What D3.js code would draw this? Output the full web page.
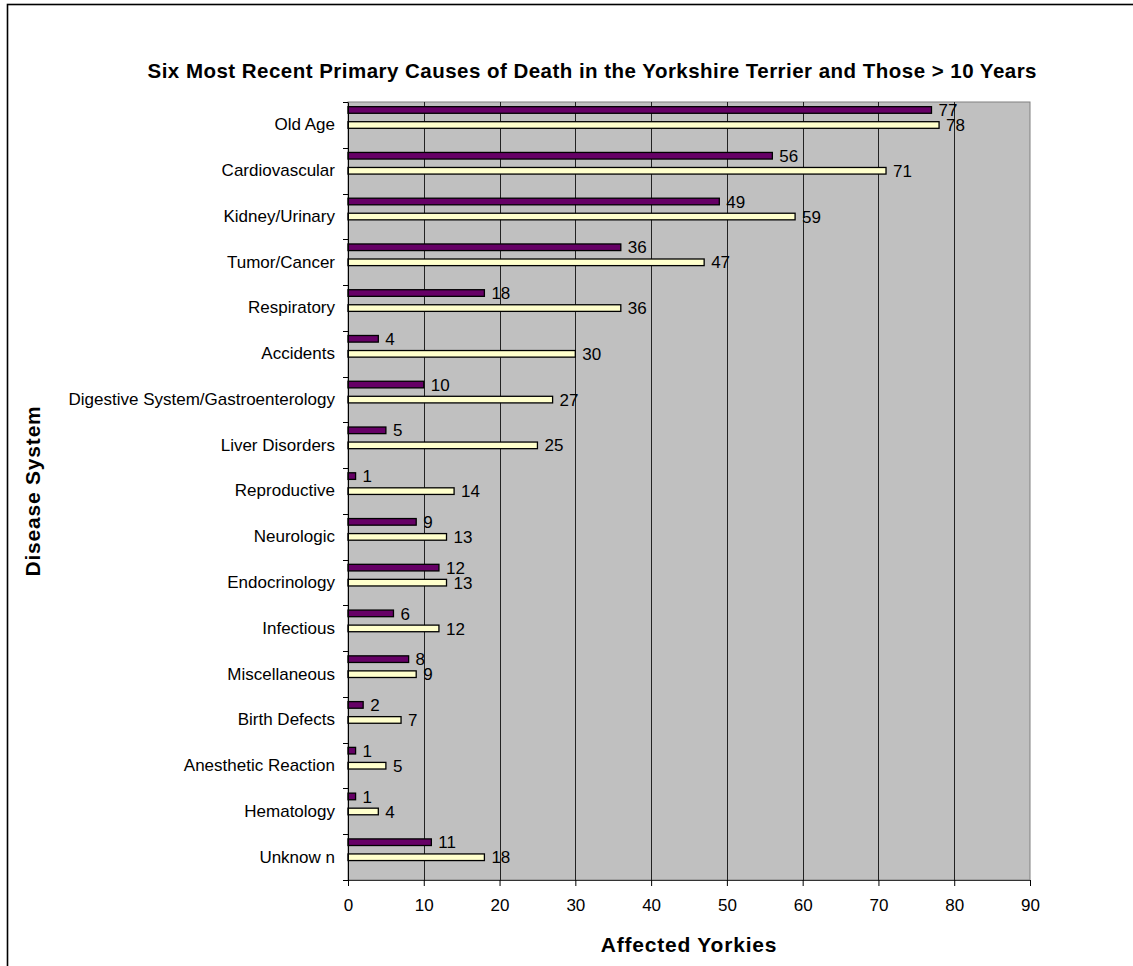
<!DOCTYPE html>
<html>
<head>
<meta charset="utf-8">
<script src="https://cdn.jsdelivr.net/npm/d3@7/dist/d3.min.js"></script>
<style>
  body { margin: 0; background: #fff; }
  svg { display: block; font-family: Arial, "Liberation Sans", sans-serif; }
</style>
</head>
<body>
<script>
// data, top to bottom as drawn
const categories = [
  'Old Age', 'Cardiovascular', 'Kidney/Urinary', 'Tumor/Cancer', 'Respiratory',
  'Accidents', 'Digestive System/Gastroenterology', 'Liver Disorders', 'Reproductive',
  'Neurologic', 'Endocrinology', 'Infectious', 'Miscellaneous', 'Birth Defects',
  'Anesthetic Reaction', 'Hematology', 'Unknow n'
];
const recentDeaths = [77, 56, 49, 36, 18, 4, 10, 5, 1, 9, 12, 6, 8, 2, 1, 1, 11];
const olderDeaths = [78, 71, 59, 47, 36, 30, 27, 25, 14, 13, 13, 12, 9, 7, 5, 4, 18];
const xTicks = [0, 10, 20, 30, 40, 50, 60, 70, 80, 90];

const seriesKeys = ['recent', 'older'];
const seriesColors = { recent: '#660066', older: '#FFFFCC' };

// config
const config = {
  width: 1133,
  height: 966,
  plotLeft: 348,
  plotRight: 1030,
  plotTop: 102,
  plotBottom: 880,
  plotBg: '#C0C0C0',
  fontSize: 17,
};

const rows = categories.map((name, i) => ({
  name: name,
  recent: recentDeaths[i],
  older: olderDeaths[i],
}));

const svg = d3.select('body').append('svg')
  .attr('width', config.width)
  .attr('height', config.height);

// outer chart frame (right and bottom edges fall off the page)
svg.append('rect')
  .attr('x', 7.5).attr('y', 4.5)
  .attr('width', 1300).attr('height', 1100)
  .attr('fill', 'none')
  .attr('stroke', '#000')
  .attr('stroke-width', 1.6);

const x = d3.scaleLinear()
  .domain([0, 90])
  .range([config.plotLeft, config.plotRight]);

const y = d3.scaleBand()
  .domain(categories)
  .range([config.plotTop, config.plotBottom]);

// two bars per band, with space left where Excel keeps an empty third slot
const band = y.bandwidth();
const ySub = d3.scaleBand()
  .domain(seriesKeys)
  .range([band * 0.102, band * 0.575])
  .paddingInner(0.56);

// plot background
svg.append('rect')
  .attr('x', config.plotLeft)
  .attr('y', config.plotTop)
  .attr('width', config.plotRight - config.plotLeft)
  .attr('height', config.plotBottom - config.plotTop)
  .attr('fill', config.plotBg)
  .attr('stroke', '#808080')
  .attr('stroke-width', 1);

// vertical gridlines
svg.append('g')
  .selectAll('line')
  .data(xTicks.slice(1, -1))
  .enter().append('line')
  .attr('x1', (d) => Math.round(x(d)) + 0.5)
  .attr('x2', (d) => Math.round(x(d)) + 0.5)
  .attr('y1', config.plotTop)
  .attr('y2', config.plotBottom)
  .attr('stroke', '#222')
  .attr('stroke-width', 1);

// bars
const groups = svg.append('g')
  .selectAll('g')
  .data(rows)
  .enter().append('g')
  .attr('transform', (d) => 'translate(0,' + y(d.name) + ')');

groups.selectAll('rect')
  .data((d) => seriesKeys.map((k) => ({ key: k, value: d[k] })))
  .enter().append('rect')
  .attr('x', x(0))
  .attr('y', (d) => ySub(d.key))
  .attr('width', (d) => x(d.value) - x(0))
  .attr('height', ySub.bandwidth())
  .attr('fill', (d) => seriesColors[d.key])
  .attr('stroke', '#000')
  .attr('stroke-width', 1.3);

// value labels
groups.selectAll('text')
  .data((d) => seriesKeys.map((k) => ({ key: k, value: d[k] })))
  .enter().append('text')
  .attr('x', (d) => x(d.value) + 7)
  .attr('y', (d) => ySub(d.key) + ySub.bandwidth() / 2)
  .attr('dy', '0.36em')
  .style('font-size', config.fontSize + 'px')
  .attr('fill', '#000')
  .text((d) => d.value);

// y axis
const yAxis = svg.append('g')
  .attr('transform', 'translate(' + config.plotLeft + ',0)')
  .call(d3.axisLeft(y).tickSize(0).tickPadding(13));
yAxis.select('.domain').attr('stroke', '#000');
yAxis.selectAll('text')
  .style('font-size', config.fontSize + 'px')
  .attr('fill', '#000');

// y tick marks sit between categories
svg.append('g')
  .selectAll('line')
  .data(categories.map((c) => y(c)).concat([config.plotBottom]))
  .enter().append('line')
  .attr('x1', config.plotLeft - 5)
  .attr('x2', config.plotLeft)
  .attr('y1', (d) => Math.round(d) + 0.5)
  .attr('y2', (d) => Math.round(d) + 0.5)
  .attr('stroke', '#000');

// x axis
const xAxis = svg.append('g')
  .attr('transform', 'translate(0,' + config.plotBottom + ')')
  .call(d3.axisBottom(x).tickValues(xTicks).tickSizeInner(6).tickSizeOuter(0).tickPadding(13));
xAxis.select('.domain').attr('stroke', '#333');
xAxis.selectAll('.tick line').attr('stroke', '#000');
xAxis.selectAll('text')
  .style('font-size', config.fontSize + 'px')
  .attr('fill', '#000');

// title
svg.append('text')
  .attr('x', 592)
  .attr('y', 78)
  .attr('text-anchor', 'middle')
  .attr('textLength', 889)
  .attr('lengthAdjust', 'spacing')
  .style('font-size', '20.5px')
  .style('font-weight', 'bold')
  .text('Six Most Recent Primary Causes of Death in the Yorkshire Terrier and Those > 10 Years');

// axis titles
svg.append('text')
  .attr('x', (config.plotLeft + config.plotRight) / 2)
  .attr('y', 952)
  .attr('text-anchor', 'middle')
  .style('font-size', '21px')
  .style('font-weight', 'bold')
  .style('letter-spacing', '0.8px')
  .text('Affected Yorkies');

svg.append('text')
  .attr('transform', 'translate(40,' + (config.plotTop + config.plotBottom) / 2 + ') rotate(-90)')
  .attr('text-anchor', 'middle')
  .style('font-size', '21px')
  .style('font-weight', 'bold')
  .style('letter-spacing', '0.8px')
  .text('Disease System');
</script>
</body>
</html>
